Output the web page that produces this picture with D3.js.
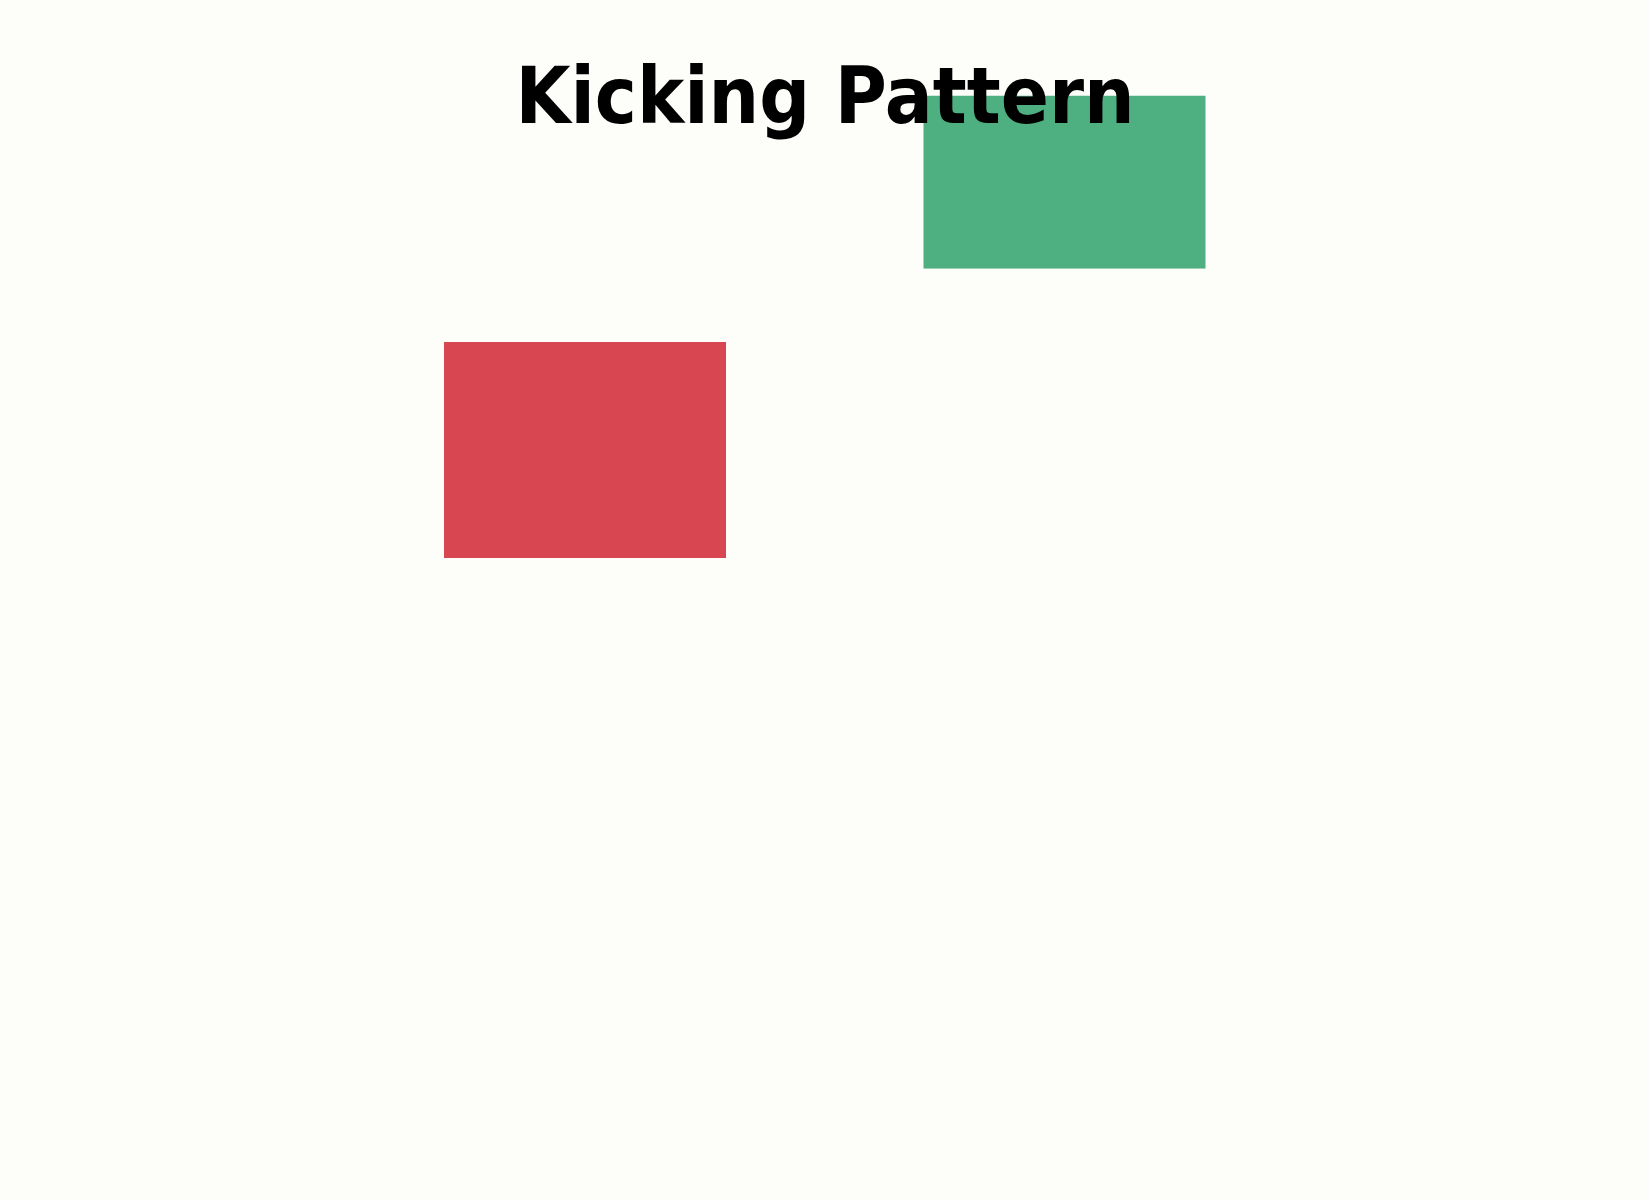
<!DOCTYPE html>
<html>
<head>
<meta charset="utf-8">
<script src="https://cdn.jsdelivr.net/npm/d3@7"></script>
<style>
  body { margin: 0; background: #fdfdf9; }
  svg { display: block; }
</style>
</head>
<body>
<div id="chart"></div>
<script>
// # DATA
// # ------------------------------
var days        = ["Day 1", "Day 2"];
var open_vals   = [100, 103.4];
var close_vals  = [90, 111.4];
var title_text  = "Kicking Pattern";

// # LAYOUT
// # ------------------------------
var width  = 1650,
    height = 1200;

var bull_color = "#4eaf80",
    bear_color = "#d84652";

var svg = d3.select("#chart")
  .append("svg")
  .attr("width", width)
  .attr("height", height);

svg.append("rect")
  .attr("width", width)
  .attr("height", height)
  .attr("fill", "#fdfdf9");

// ## scales
// # ------------------------------
var x = d3.scalePoint()
  .domain(days)
  .range([585, 1064.5]);

var y = d3.scaleLinear()
  .domain([80, 115])
  .range([774, 18]);

var body_width = 282;

var candles = days.map(function(d, i) {
  return { day: d, open: open_vals[i], close: close_vals[i] };
});

// ## candles
// # ------------------------------
svg.append("g")
  .selectAll("rect")
  .data(candles)
  .enter()
  .append("rect")
  .attr("x", function(d) { return x(d.day) - body_width / 2; })
  .attr("y", function(d) { return y(Math.max(d.open, d.close)); })
  .attr("width", body_width)
  .attr("height", function(d) { return Math.abs(y(d.open) - y(d.close)); })
  .attr("fill", function(d) { return d.close >= d.open ? bull_color : bear_color; });

// ## title
// # ------------------------------
svg.append("text")
  .attr("x", width / 2)
  .attr("y", 123)
  .attr("text-anchor", "middle")
  .style("font-family", "DejaVu Sans Condensed")
  .style("font-stretch", "condensed")
  .style("font-weight", "bold")
  .style("font-size", "79px")
  .attr("fill", "#000")
  .text(title_text);
</script>
</body>
</html>
